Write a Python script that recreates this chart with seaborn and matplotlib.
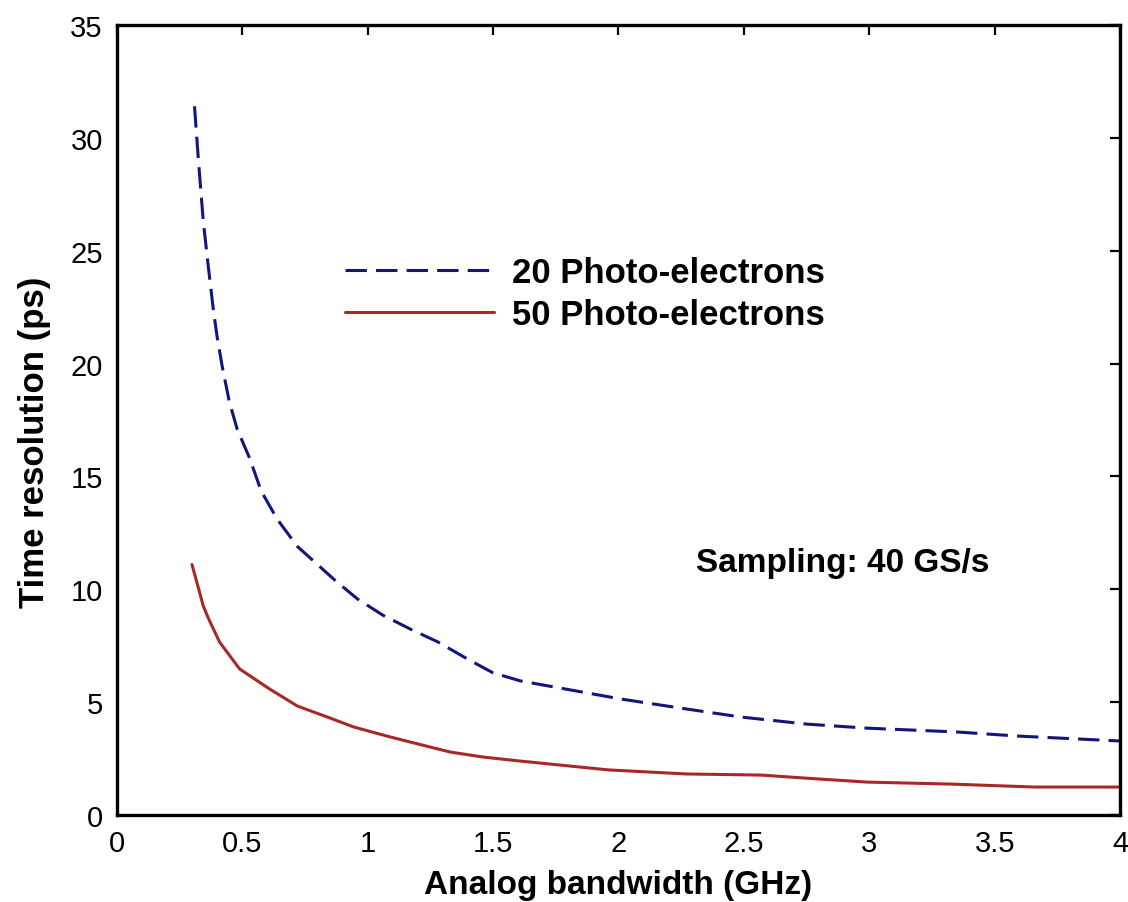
import matplotlib
matplotlib.use("Agg")
import matplotlib.pyplot as plt
import seaborn as sns
import pandas as pd

# ---- data ----
bw_20 = [0.31, 0.325, 0.345, 0.366, 0.385, 0.40, 0.42, 0.449, 0.48, 0.53, 0.576,
         0.64, 0.72, 0.79, 0.87, 0.96, 1.06, 1.17, 1.28, 1.40, 1.50, 1.61, 2.01,
         2.27, 2.49, 2.75, 2.99, 3.35, 3.59, 4.00]
res_20 = [31.4, 29.1, 26.3, 24.2, 22.4, 21.2, 19.9, 18.3, 17.1, 15.8, 14.35,
          13.1, 11.9, 11.2, 10.4, 9.57, 8.86, 8.24, 7.67, 6.9, 6.3, 5.94, 5.14,
          4.7, 4.34, 4.03, 3.85, 3.68, 3.5, 3.28]

bw_50 = [0.30, 0.345, 0.366, 0.41, 0.49, 0.61, 0.72, 0.84, 0.945, 1.09, 1.20, 1.33,
         1.46, 1.61, 1.96, 2.27, 2.57, 2.74, 2.99, 3.33, 3.66, 4.00]
res_50 = [11.1, 9.26, 8.7, 7.66, 6.47, 5.58, 4.83, 4.34, 3.9, 3.46, 3.15, 2.79,
          2.57, 2.39, 2.0, 1.82, 1.77, 1.64, 1.46, 1.37, 1.24, 1.24]

series_names = ["20 Photo-electrons", "50 Photo-electrons"]
x_ticks = [0, 0.5, 1, 1.5, 2, 2.5, 3, 3.5, 4]
x_tick_labels = ["0", "0.5", "1", "1.5", "2", "2.5", "3", "3.5", "4"]
y_ticks = [0, 5, 10, 15, 20, 25, 30, 35]
y_tick_labels = ["0", "5", "10", "15", "20", "25", "30", "35"]
annotation = "Sampling: 40 GS/s"

df = pd.concat([
    pd.DataFrame({"bw": bw_20, "res": res_20, "series": series_names[0]}),
    pd.DataFrame({"bw": bw_50, "res": res_50, "series": series_names[1]}),
], ignore_index=True)

sns.set_style("white")
plt.rcParams["font.family"] = ["Liberation Sans", "DejaVu Sans"]
plt.rcParams["text.color"] = "black"
plt.rcParams["axes.labelcolor"] = "black"

fig = plt.figure(figsize=(11.28, 9.03), dpi=100)
ax = fig.add_axes([0.1035, 0.0963, 0.8895, 0.8749])

palette = {series_names[0]: "#14147f", series_names[1]: "#a82828"}
sns.lineplot(data=df, x="bw", y="res", hue="series", style="series",
             palette=palette, dashes={series_names[0]: (7, 3), series_names[1]: ""},
             linewidth=2.2, ax=ax, legend=True, estimator=None, sort=False)

ax.set_xlim(0, 4)
ax.set_ylim(0, 35)
ax.set_xticks(x_ticks)
ax.set_xticklabels(x_tick_labels)
ax.set_yticks(y_ticks)
ax.set_yticklabels(y_tick_labels)

for s in ax.spines.values():
    s.set_visible(True)
    s.set_linewidth(2.4)
    s.set_color("black")

ax.tick_params(direction="in", length=7, width=1.6, top=True, right=True,
               labelsize=21, colors="black")
ax.tick_params(axis="x", pad=10)
ax.tick_params(axis="y", pad=10)

ax.set_xlabel("Analog bandwidth (GHz)", fontsize=24, fontweight="bold", labelpad=9,
              color="black")
ax.set_ylabel("Time resolution (ps)", fontsize=25, fontweight="bold", color="black")
ax.yaxis.set_label_coords(-0.066, 0.473)

ax.text(2.31, 11.2, annotation, fontsize=24, fontweight="bold", ha="left", va="center",
        color="black")

handles, labels = ax.get_legend_handles_labels()
leg = ax.legend(handles, labels, loc="upper left", bbox_to_anchor=(0.2276, 0.707),
                frameon=False, handlelength=4.3, handletextpad=0.5,
                labelspacing=0.25, borderpad=0, borderaxespad=0,
                prop={"weight": "bold", "size": 25})
for t in leg.get_texts():
    t.set_color("black")

fig.savefig("out.png", dpi=100, facecolor="white")
